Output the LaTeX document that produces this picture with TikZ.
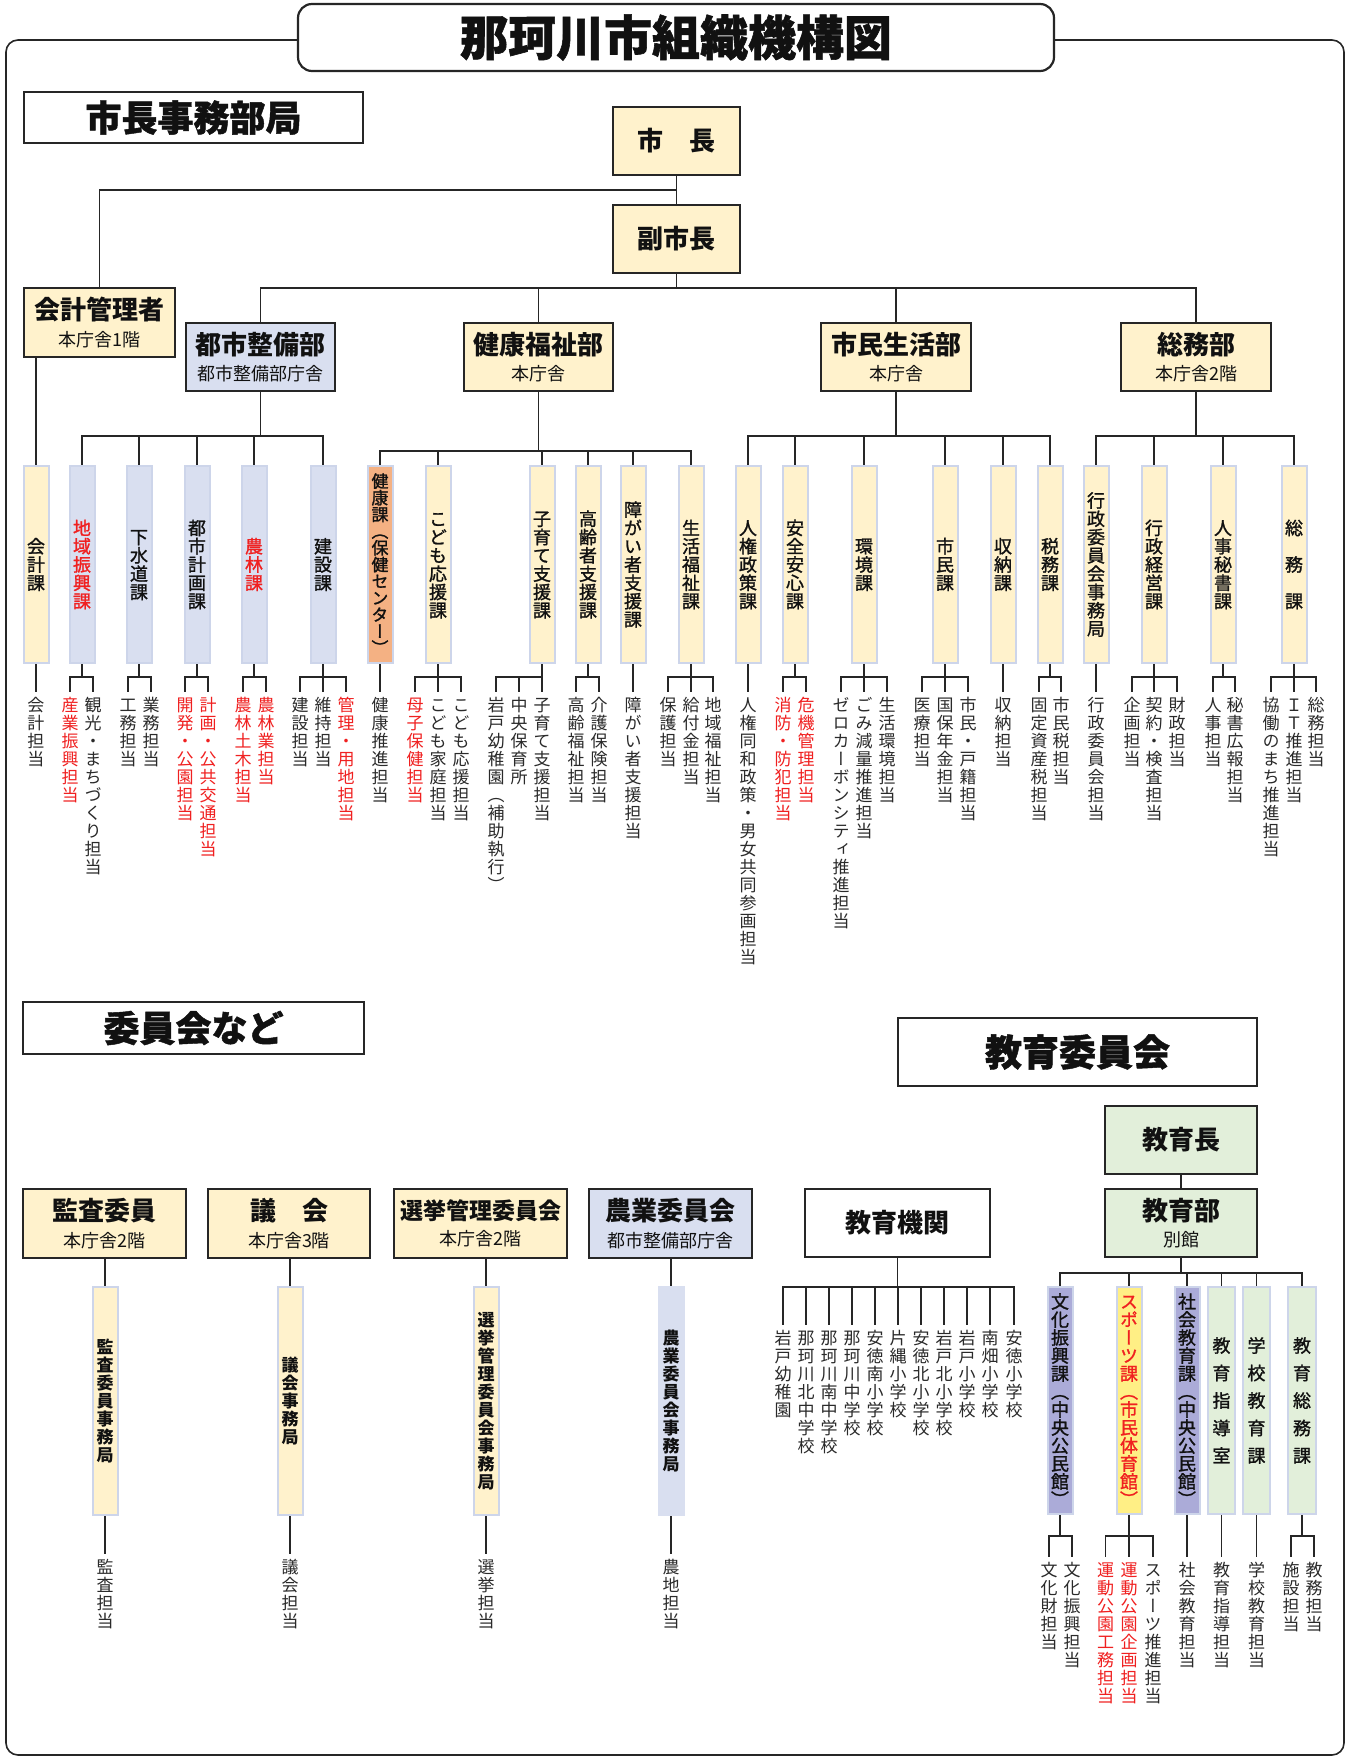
\documentclass[tikz,border=0pt]{standalone}
\usepackage{fontspec}
\setmainfont{Noto Sans CJK JP}
\newfontfamily\vfont{Noto Sans CJK JP}[RawFeature=+vert]
\newfontfamily\vfontm{Noto Sans CJK JP}[RawFeature=+vert, FakeBold=1.3]
\newfontfamily\heavy{Noto Sans CJK JP}[FakeBold=1.2]
\definecolor{tk}{HTML}{111111}
\definecolor{lt}{HTML}{2A2A2A}
\definecolor{ln}{HTML}{262626}
\definecolor{cy}{HTML}{FFF2CC}
\definecolor{cb}{HTML}{D9DFF0}
\definecolor{co}{HTML}{F4B183}
\definecolor{cg}{HTML}{E2EFDA}
\definecolor{cp}{HTML}{ABABD8}
\definecolor{cs}{HTML}{FFEF85}
\definecolor{cr}{HTML}{F02020}
\definecolor{sbd}{HTML}{CDD5EA}
\newcommand\fs[1]{\fontsize{#1}{#1}\selectfont}
\newlength\vpitch
\makeatletter
\newcommand\vt[2][18]{\vbox{\offinterlineskip\setlength\vpitch{#1pt}\vt@a#2\relax}}
\def\vt@a#1{\ifx\relax#1\else\vbox to\vpitch{\vss\hbox to\vpitch{\hss\vrule height .88em depth .12em width 0pt\relax#1\hss}\vss}\expandafter\vt@a\fi}
\makeatother
\newcommand\vtx[1]{\expandafter\vt\expandafter{#1}}
\newcommand\twol[3][26]{\vbox{\offinterlineskip\halign{\hfil##\hfil\cr
 \fs{#1}\bfseries\vrule height .88em depth .12em width 0pt #2\cr
 \noalign{\kern 7.5pt}
 \fs{18}\vrule height .88em depth .12em width 0pt #3\cr}}}
\tikzset{
 con/.style={draw=ln, line width=1.4pt},
 box/.style={draw=ln, line width=1.6pt, inner sep=0pt, text=tk},
 hdr/.style={draw=ln, line width=2pt, fill=white, inner sep=0pt, text=tk},
 secbox/.style={draw=sbd, line width=2pt, inner sep=0pt, minimum width=25pt, font=\vfontm\fs{18}, text=tk},
 topsec/.style={secbox, minimum height=197pt},
 botsec/.style={secbox, minimum height=228pt, font=\vfont\bfseries\fs{17}},
 leaf/.style={anchor=north, inner xsep=0pt, inner ysep=3.5pt, font=\vfont\fs{17}, text=lt},
}
\begin{document}
\begin{tikzpicture}[x=1pt,y=-1pt]
\fill[white] (0,0) rectangle (1349,1760);
\useasboundingbox (0,0) rectangle (1349,1760);
% frame and title
\draw[ln, line width=1.6pt, rounded corners=12pt] (6,40) rectangle (1344,1755);
\node[hdr, rounded corners=14pt, line width=2.2pt, minimum width=756pt, minimum height=67pt] (t) at (676,37.5) {\heavy\bfseries\fs{48}那珂川市組織機構図};
% headers
\node[hdr, minimum width=339pt, minimum height=51pt] (h1) at (193.5,117.5) {\heavy\bfseries\fs{36}市長事務部局};
\node[hdr, minimum width=341pt, minimum height=52pt] (h2) at (193.5,1028) {\heavy\bfseries\fs{36}委員会など};
\node[hdr, minimum width=359pt, minimum height=68pt] (h3) at (1077.5,1052) {\heavy\bfseries\fs{37}教育委員会};
% bus levels
\coordinate (Lmb) at (0,190);
\coordinate (Ldb) at (0,288);
\coordinate (L1) at (0,436);
\coordinate (L2) at (0,451);
\coordinate (Lsub) at (0,677);
\coordinate (Leb) at (0,1273);
\coordinate (Lsc) at (0,1287);
\coordinate (Lesub) at (0,1536);
% top boxes
\node[box, fill=cy, minimum width=127pt, minimum height=68pt] (m) at (676.5,141) {\fs{26}\bfseries 市　長};
\node[box, fill=cy, minimum width=127pt, minimum height=68pt] (vm) at (676.5,239) {\fs{26}\bfseries 副市長};
\node[box, fill=cy, minimum width=151pt, minimum height=69pt] (acc) at (99.5,322.5) {\twol{会計管理者}{本庁舎1階}};
\node[box, fill=cb, minimum width=149pt, minimum height=68pt] (d1) at (260.5,357) {\twol{都市整備部}{都市整備部庁舎}};
\node[box, fill=cy, minimum width=149pt, minimum height=68pt] (d2) at (538.5,357) {\twol{健康福祉部}{本庁舎}};
\node[box, fill=cy, minimum width=150pt, minimum height=68pt] (d3) at (896,357) {\twol{市民生活部}{本庁舎}};
\node[box, fill=cy, minimum width=150pt, minimum height=68pt] (d4) at (1196,357) {\twol{総務部}{本庁舎2階}};
\draw[con] (m) -- (vm);
\draw[con] (m.south) |- (acc.north |- Lmb) -- (acc.north);
\foreach \d in {d1,d2,d3,d4} \draw[con] (vm.south) |- (\d.north |- Ldb) -- (\d.north);
% sections top row
\node[topsec, fill=cy] (s1) at (36,564.5) {\vt[18.3]{会計課}};
\node[topsec, fill=cb, text=cr] (s2) at (82,564.5) {\vt[18.3]{地域振興課}};
\node[topsec, fill=cb] (s3) at (139,564.5) {\vt[18.3]{下水道課}};
\node[topsec, fill=cb] (s4) at (197,564.5) {\vt[18.3]{都市計画課}};
\node[topsec, fill=cb, text=cr] (s5) at (254,564.5) {\vt[18.3]{農林課}};
\node[topsec, fill=cb] (s6) at (323,564.5) {\vt[18.3]{建設課}};
\node[topsec, fill=co, font=\vfontm\fs{17}] (s7) at (380,564.5) {\vt[16.7]{健康課（保健センター）}};
\node[topsec, fill=cy] (s8) at (438,564.5) {\vt[18.3]{こども応援課}};
\node[topsec, fill=cy] (s9) at (542,564.5) {\vt[18.3]{子育て支援課}};
\node[topsec, fill=cy] (s10) at (588,564.5) {\vt[18.3]{高齢者支援課}};
\node[topsec, fill=cy] (s11) at (633,564.5) {\vt[18.3]{障がい者支援課}};
\node[topsec, fill=cy] (s12) at (691,564.5) {\vt[18.3]{生活福祉課}};
\node[topsec, fill=cy] (s13) at (748,564.5) {\vt[18.3]{人権政策課}};
\node[topsec, fill=cy] (s14) at (795,564.5) {\vt[18.3]{安全安心課}};
\node[topsec, fill=cy] (s15) at (864,564.5) {\vt[18.3]{環境課}};
\node[topsec, fill=cy] (s16) at (945,564.5) {\vt[18.3]{市民課}};
\node[topsec, fill=cy] (s17) at (1003,564.5) {\vt[18.3]{収納課}};
\node[topsec, fill=cy] (s18) at (1050,564.5) {\vt[18.3]{税務課}};
\node[topsec, fill=cy] (s19) at (1096,564.5) {\vt[18.3]{行政委員会事務局}};
\node[topsec, fill=cy] (s20) at (1154,564.5) {\vt[18.3]{行政経営課}};
\node[topsec, fill=cy] (s21) at (1223,564.5) {\vt[18.3]{人事秘書課}};
\node[topsec, fill=cy] (s22) at (1294,564.5) {\vt[18.3]{総　務　課}};
\draw[con] (acc.south -| s1.north) -- (s1.north);
\foreach \s in {s2,s3,s4,s5,s6} \draw[con] (d1.south) |- (\s.north |- L1) -- (\s.north);
\foreach \s in {s7,s8,s9,s10,s11,s12} \draw[con] (d2.south) |- (\s.north |- L2) -- (\s.north);
\foreach \s in {s13,s14,s15,s16,s17,s18} \draw[con] (d3.south) |- (\s.north |- L1) -- (\s.north);
\foreach \s in {s19,s20,s21,s22} \draw[con] (d4.south) |- (\s.north |- L1) -- (\s.north);
% leaves top row
\foreach \n/\s/\x/\c/\t in {
 l1/s1/36/lt/会計担当, l2/s2/70/cr/産業振興担当, l3/s2/93/lt/観光・まちづくり担当,
 l4/s3/128/lt/工務担当, l5/s3/151/lt/業務担当,
 l6/s4/185/cr/開発・公園担当, l7/s4/208/cr/計画・公共交通担当,
 l8/s5/243/cr/農林土木担当, l9/s5/266/cr/農林業担当,
 l10/s6/300/lt/建設担当, l11/s6/323/lt/維持担当, l12/s6/346/cr/管理・用地担当,
 l13/s7/380/lt/健康推進担当,
 l14/s8/415/cr/母子保健担当, l15/s8/438/lt/こども家庭担当, l16/s8/461/lt/こども応援担当,
 l17/s9/496/lt/岩戸幼稚園（補助執行）, l18/s9/519/lt/中央保育所, l19/s9/542/lt/子育て支援担当,
 l20/s10/576/lt/高齢福祉担当, l21/s10/599/lt/介護保険担当,
 l22/s11/633/lt/障がい者支援担当,
 l23/s12/668/lt/保護担当, l24/s12/691/lt/給付金担当, l25/s12/713/lt/地域福祉担当,
 l26/s13/748/lt/人権同和政策・男女共同参画担当,
 l27/s14/783/cr/消防・防犯担当, l28/s14/806/cr/危機管理担当,
 l29/s15/841/lt/ゼロカーボンシティ推進担当, l30/s15/864/lt/ごみ減量推進担当, l31/s15/887/lt/生活環境担当,
 l32/s16/922/lt/医療担当, l33/s16/945/lt/国保年金担当, l34/s16/968/lt/市民・戸籍担当,
 l35/s17/1003/lt/収納担当,
 l36/s18/1039/lt/固定資産税担当, l37/s18/1061/lt/市民税担当,
 l38/s19/1096/lt/行政委員会担当,
 l39/s20/1132/lt/企画担当, l40/s20/1154/lt/契約・検査担当, l41/s20/1177/lt/財政担当,
 l42/s21/1213/lt/人事担当, l43/s21/1235/lt/秘書広報担当,
 l44/s22/1271/lt/協働のまち推進担当, l45/s22/1294/lt/ＩＴ推進担当, l46/s22/1316/lt/総務担当}
{
 \node[leaf, text=\c] (\n) at (\x,692) {\vtx{\t}};
 \draw[con] (\s.south) |- (\n.north |- Lsub) -- (\n.north);
}
% committees
\node[box, fill=cy, minimum width=163pt, minimum height=69pt] (c1) at (104.5,1223.5) {\twol{監査委員}{本庁舎2階}};
\node[box, fill=cy, minimum width=162pt, minimum height=69pt] (c2) at (289,1223.5) {\twol{議　会}{本庁舎3階}};
\node[box, fill=cy, minimum width=173pt, minimum height=69pt] (c3) at (480.5,1223.5) {\twol[23]{選挙管理委員会}{本庁舎2階}};
\node[box, fill=cb, minimum width=163pt, minimum height=69pt] (c4) at (670.5,1223.5) {\twol{農業委員会}{都市整備部庁舎}};
\node[botsec, fill=cy] (cs1) at (105,1401) {\vt{監査委員事務局}};
\node[botsec, fill=cy] (cs2) at (290,1401) {\vt{議会事務局}};
\node[botsec, fill=cy] (cs3) at (486,1401) {\vt{選挙管理委員会事務局}};
\node[botsec, fill=cb, draw=cb] (cs4) at (671,1401) {\vt{農業委員会事務局}};
\node[leaf] (cl1) at (105,1554) {\vt{監査担当}};
\node[leaf] (cl2) at (290,1554) {\vt{議会担当}};
\node[leaf] (cl3) at (486,1554) {\vt{選挙担当}};
\node[leaf] (cl4) at (671,1554) {\vt{農地担当}};
\foreach \i in {1,2,3,4} {
 \draw[con] (c\i.south -| cs\i.north) -- (cs\i.north);
 \draw[con] (cs\i.south) -- (cl\i.north);
}
% education
\node[box, fill=cg, minimum width=152pt, minimum height=68pt] (e1) at (1181,1140) {\fs{26}\bfseries 教育長};
\node[box, fill=cg, minimum width=152pt, minimum height=68pt] (e2) at (1181,1223) {\twol{教育部}{別館}};
\node[box, fill=white, minimum width=185pt, minimum height=68pt] (e3) at (897.5,1223) {\fs{26}\bfseries 教育機関};
\draw[con] (e1) -- (e2);
\foreach \n/\x/\t in {sc1/783/岩戸幼稚園, sc2/806/那珂川北中学校, sc3/829/那珂川南中学校, sc4/852/那珂川中学校, sc5/875/安徳南小学校, sc6/898/片縄小学校, sc7/921/安徳北小学校, sc8/944/岩戸北小学校, sc9/967/岩戸小学校, sc10/990/南畑小学校, sc11/1014/安徳小学校}
{
 \node[leaf] (\n) at (\x,1325) {\vtx{\t}};
 \draw[con] (e3.south) |- (\n.north |- Lsc) -- (\n.north);
}
\node[secbox, minimum height=227pt, fill=cp] (es1) at (1060,1400.5) {\vt{文化振興課（中央公民館）}};
\node[secbox, minimum height=227pt, fill=cs, text=cr] (es2) at (1129,1400.5) {\vt{スポーツ課（市民体育館）}};
\node[secbox, minimum height=227pt, fill=cp] (es3) at (1187,1400.5) {\vt{社会教育課（中央公民館）}};
\node[secbox, minimum height=227pt, fill=cg] (es4) at (1221.5,1400.5) {\vt[27.5]{教育指導室}};
\node[secbox, minimum height=227pt, fill=cg] (es5) at (1256.5,1400.5) {\vt[27.5]{学校教育課}};
\node[secbox, minimum height=227pt, fill=cg] (es6) at (1302,1400.5) {\vt[27.5]{教育総務課}};
\foreach \s in {es1,es2,es3,es4,es5,es6} \draw[con] (e2.south) |- (\s.north |- Leb) -- (\s.north);
\foreach \n/\s/\x/\c/\t in {
 el1/es1/1049/lt/文化財担当, el2/es1/1072/lt/文化振興担当,
 el3/es2/1105.5/cr/運動公園工務担当, el4/es2/1129/cr/運動公園企画担当, el5/es2/1153/lt/スポーツ推進担当,
 el6/es3/1187/lt/社会教育担当, el7/es4/1221.5/lt/教育指導担当, el8/es5/1256.5/lt/学校教育担当,
 el9/es6/1291/lt/施設担当, el10/es6/1314/lt/教務担当}
{
 \node[leaf, text=\c] (\n) at (\x,1557) {\vtx{\t}};
 \draw[con] (\s.south) |- (\n.north |- Lesub) -- (\n.north);
}
\end{tikzpicture}
\end{document}
